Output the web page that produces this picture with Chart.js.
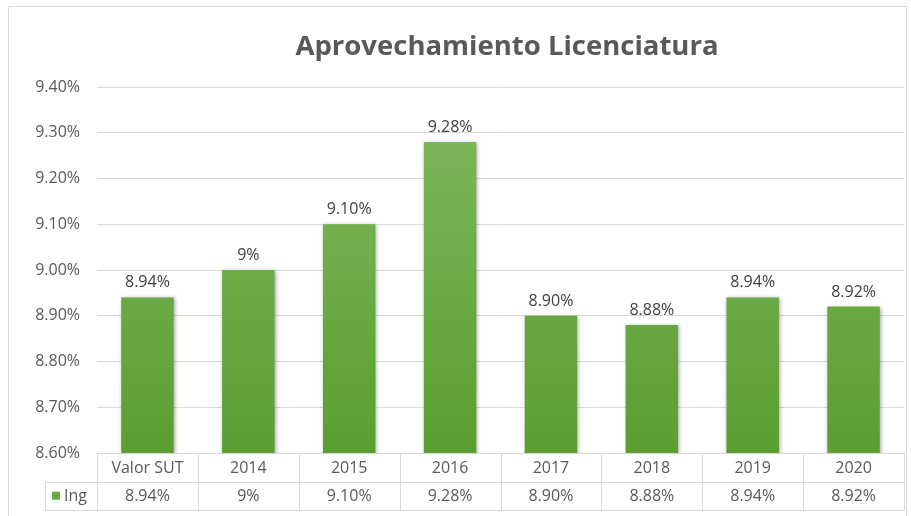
<!DOCTYPE html>
<html>
<head>
<meta charset="utf-8">
<script src="https://cdn.jsdelivr.net/npm/chart.js@4"></script>
<style>
  html, body { margin: 0; padding: 0; background: #fff; }
  #wrap { width: 911px; height: 516px; }
</style>
</head>
<body>
<div id="wrap"><canvas id="myChart" width="911" height="516"></canvas></div>
<script>
const titleText = "Aprovechamiento Licenciatura";
const categories = ["Valor SUT", "2014", "2015", "2016", "2017", "2018", "2019", "2020"];
const seriesName = "Ing";
const values = [8.94, 9.00, 9.10, 9.28, 8.90, 8.88, 8.94, 8.92];
const valueLabels = ["8.94%", "9%", "9.10%", "9.28%", "8.90%", "8.88%", "8.94%", "8.92%"];

const FONT = "'Open Sans', 'Noto Sans', sans-serif";
const GRID = "#d9d9d9";
const TEXT = "#595959";

// gradient like the Excel bars, lighter at top
function barFill(context) {
    const area = context.chart.chartArea;
    if (!area) return "#6aac45";
    const g = context.chart.ctx.createLinearGradient(0, area.top, 0, area.bottom);
    g.addColorStop(0, "#80ba60");
    g.addColorStop(1, "#5a9e30");
    return g;
}

const extras = {
    id: "extras",
    beforeDatasetsDraw(chart) {
        const c = chart.ctx;
        c.save();
        c.shadowColor = "rgba(0,0,0,0.35)";
        c.shadowBlur = 4;
        c.shadowOffsetX = 1;
        c.shadowOffsetY = 1;
    },
    afterDatasetsDraw(chart) {
        const c = chart.ctx;
        c.restore();
        const area = chart.chartArea;
        const x = chart.scales.x;
        const meta = chart.getDatasetMeta(0);

        // outer border
        c.save();
        c.strokeStyle = GRID;
        c.lineWidth = 1;
        c.beginPath();
        c.moveTo(8.5, 520);
        c.lineTo(8.5, 6.5);
        c.lineTo(906.5, 6.5);
        c.lineTo(906.5, 520);
        c.stroke();

        // title
        c.fillStyle = TEXT;
        c.font = "bold 27.5px " + FONT;
        c.textAlign = "center";
        c.textBaseline = "middle";
        c.fillText(titleText, 507, 47);

        // value labels above bars
        c.font = "16px " + FONT;
        c.fillStyle = "#404040";
        c.textBaseline = "alphabetic";
        meta.data.forEach((bar, i) => {
            c.fillText(valueLabels[i], bar.x, bar.y - 10);
        });

        // data table
        const rowH = 28.5;
        const top = area.bottom;
        const mid = top + rowH;
        const bot = mid + rowH;
        const step = (area.right - area.left) / categories.length;
        const legendLeft = 45;
        c.strokeStyle = GRID;
        c.beginPath();
        for (let i = 0; i <= categories.length; i++) {
            const px = Math.round(area.left + i * step) + 0.5;
            c.moveTo(px, top);
            c.lineTo(px, bot);
        }
        c.moveTo(legendLeft + 0.5, mid);
        c.lineTo(legendLeft + 0.5, bot);
        c.moveTo(legendLeft, Math.round(mid) + 0.5);
        c.lineTo(area.right, Math.round(mid) + 0.5);
        c.moveTo(legendLeft, Math.round(bot) + 0.5);
        c.lineTo(area.right, Math.round(bot) + 0.5);
        c.stroke();

        c.fillStyle = TEXT;
        c.font = "16px " + FONT;
        c.textBaseline = "middle";
        c.textAlign = "center";
        categories.forEach((cat, i) => {
            const cx = x.getPixelForValue(i);
            c.fillText(cat, cx, top + rowH / 2 + 1);
            c.fillText(valueLabels[i], cx, mid + rowH / 2 + 1);
        });
        c.fillStyle = "#6aac45";
        c.fillRect(52, mid + rowH / 2 - 4, 8, 8);
        c.fillStyle = TEXT;
        c.textAlign = "left";
        c.fillText(seriesName, 64, mid + rowH / 2 + 1);
        c.restore();
    }
};

const ctx = document.getElementById("myChart").getContext("2d");
const myChart = new Chart(ctx, {
    type: "bar",
    data: {
        labels: categories,
        datasets: [
            {
                label: seriesName,
                data: values,
                backgroundColor: barFill,
                borderWidth: 0,
                barPercentage: 1,
                categoryPercentage: 0.52,
            },
        ],
    },
    options: {
        responsive: false,
        animation: false,
        layout: { padding: { left: 8, right: 7, top: 87, bottom: 63 } },
        plugins: {
            legend: { display: false },
            title: { display: false },
            tooltip: { enabled: false },
        },
        scales: {
            x: { display: false },
            y: {
                min: 8.6,
                max: 9.4,
                afterFit(scale) { scale.width = 89; },
                border: { display: false },
                grid: { color: GRID, drawTicks: false },
                ticks: {
                    stepSize: 0.1,
                    padding: 17,
                    color: TEXT,
                    font: { family: FONT, size: 16 },
                    callback: (v) => v.toFixed(2) + "%",
                },
            },
        },
    },
    plugins: [extras],
});
</script>
</body>
</html>
